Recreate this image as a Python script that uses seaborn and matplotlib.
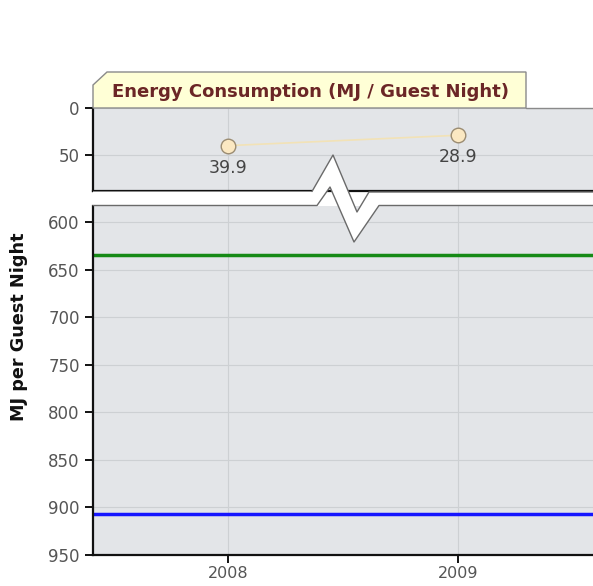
import matplotlib
matplotlib.use("Agg")
import matplotlib.pyplot as plt
from matplotlib.patches import Polygon
from matplotlib.lines import Line2D
import pandas as pd
import seaborn as sns

years = [2008, 2009]
energy = [39.9, 28.9]
benchmark_good = 635
benchmark_typical = 907
top_ticks = [0, 50]
bottom_ticks = [600, 650, 700, 750, 800, 850, 900, 950]
title = "Energy Consumption (MJ / Guest Night)"
ylabel = "MJ per Guest Night"

df = pd.DataFrame({"Year": years, "MJ": energy})

sns.set_style("ticks", {
    "axes.facecolor": "#e3e5e8",
    "axes.edgecolor": "#111111",
    "grid.color": "#cdd0d3",
})
plt.rcParams["font.family"] = ["DejaVu Sans"]

W, H = 593, 586
fig = plt.figure(figsize=(W / 100, H / 100), dpi=100)


def px(x, y):
    return (x / W, 1 - y / H)


ax_top = fig.add_axes([93 / W, 1 - 191 / H, 1 - 93 / W, (191 - 108) / H])
ax_bot = fig.add_axes([93 / W, 1 - 555 / H, 1 - 93 / W, (555 - 206) / H])

xlim = (2007.41, 2009.59)
for ax in (ax_top, ax_bot):
    ax.set_xlim(*xlim)
    ax.set_xticks(years)
    ax.grid(True, lw=0.8)
    ax.set_axisbelow(True)
    for s in ("top", "right"):
        ax.spines[s].set_visible(False)
    ax.spines["left"].set_linewidth(1.6)
    ax.spines["bottom"].set_linewidth(1.6)
    ax.tick_params(axis="both", left=True, bottom=True, direction="out",
                   colors="#111111", labelcolor="#555555",
                   labelsize=12, length=6, width=1.4)

# top panel (small values)
ax_top.set_ylim(88, 0)
ax_top.set_yticks(top_ticks)
ax_top.tick_params(axis="x", bottom=False, labelbottom=False)
sns.lineplot(data=df, x="Year", y="MJ", ax=ax_top, color="#f2e2b6", lw=1.2)
sns.scatterplot(data=df, x="Year", y="MJ", ax=ax_top, s=110, color="#fbe8c2",
                edgecolor="#9b8c72", linewidth=1, zorder=5)
for x, y in zip(years, energy):
    ax_top.annotate(f"{y}", (x, y), xytext=(0, -16), textcoords="offset points",
                    ha="center", va="center", fontsize=12.5, color="#444444")
ax_top.set_xlabel("")
ax_top.set_ylabel("")

# bottom panel (benchmarks)
ax_bot.set_ylim(950, 583)
ax_bot.set_yticks(bottom_ticks)
ax_bot.axhline(benchmark_good, color="#168a16", lw=2.5)
ax_bot.axhline(benchmark_typical, color="#1515ff", lw=2.5)
ax_bot.set_xticklabels([str(y) for y in years])
ax_bot.tick_params(axis="x", pad=2, labelsize=11.5)

fig.text(19 / W, px(0, 327)[1], ylabel, rotation=90, ha="center", va="center",
         fontsize=12.7, fontweight="bold", color="#111111")

# break marker between the panels
upper = [(93, 191.5), (312, 191.5), (333, 155), (357, 212), (369, 192), (600, 192)]
lower = [(600, 205.5), (379, 205.5), (354, 242), (330, 187), (317, 205.5), (93, 205.5)]
fig.add_artist(Polygon([px(*p) for p in upper + lower], closed=True,
                       transform=fig.transFigure, facecolor="white",
                       edgecolor="none", zorder=10))
xs, ys = zip(*[px(*p) for p in upper[1:]])
fig.add_artist(Line2D(xs, ys, transform=fig.transFigure, color="#6a6a6a",
                      lw=1, zorder=11))
xs, ys = zip(*[px(*p) for p in lower])
fig.add_artist(Line2D(xs, ys, transform=fig.transFigure, color="#6a6a6a",
                      lw=1, zorder=11))

# title tab
tab = [(93, 108), (93, 85), (107, 72), (526, 72), (526, 108)]
fig.add_artist(Polygon([px(*p) for p in tab], closed=True, transform=fig.transFigure,
                       facecolor="#ffffd6", edgecolor="#8a8a8a", lw=1, zorder=12))
fig.add_artist(Line2D([526 / W, 1], [1 - 108 / H] * 2, transform=fig.transFigure,
                      color="#8a8a8a", lw=1, zorder=12))
fig.text(*px(310, 92), title, ha="center", va="center", fontsize=13,
         fontweight="bold", color="#6b2626", zorder=13)

fig.savefig("out.png", dpi=100)
